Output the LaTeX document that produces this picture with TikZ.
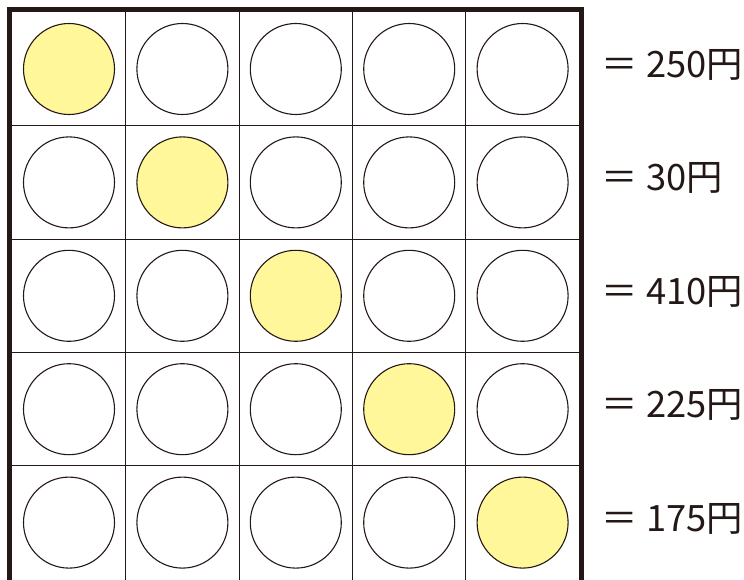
\documentclass[tikz,border=0pt]{standalone}
\usepackage{fontspec}
\setmainfont{Noto Sans CJK JP}
\usepackage{xcolor}
\usepackage{tikz}
\definecolor{ink}{HTML}{231815}
\definecolor{coin}{HTML}{FFF799}

\begin{document}
\begin{tikzpicture}[x=1pt,y=-1pt]
\useasboundingbox (0,0) rectangle (744,580);
\def\cs{113.4} \def\xo{69} \def\yo{69}
\tikzset{cell/.style={circle,draw=ink,line width=1.1pt,minimum size=91pt,inner sep=0pt}}
\tikzset{hit/.style={cell,fill=coin}}
\tikzset{price/.style={anchor=base west,inner sep=0pt,text=ink,font=\fontsize{36.3}{44}\selectfont}}
% grid lines
\foreach \i in {1,...,4} {
  \draw[ink,line width=1pt] (\xo-56.7+\i*\cs,9.5) -- (\xo-56.7+\i*\cs,580);
  \draw[ink,line width=1pt] (9.5,\yo-56.7+\i*\cs) -- (581.5,\yo-56.7+\i*\cs);
}
% coins
\foreach \r in {0,...,4} {
  \foreach \c in {0,...,4} {
    \ifnum\r=\c
      \node[hit] (c\r\c) at (\xo+\c*\cs,\yo+\r*\cs) {};
    \else
      \node[cell] (c\r\c) at (\xo+\c*\cs,\yo+\r*\cs) {};
    \fi
  }
}
% frame
\draw[ink,line width=5pt] (9.5,582) -- (9.5,9.5) -- (581.5,9.5) -- (581.5,582);
% prices
\foreach \r/\v in {0/250,1/30,2/410,3/225,4/175} {
  \node[price] (p\r) at (601.5,77.5+\r*\cs) {＝ {\v}円};
}
\end{tikzpicture}
\end{document}
